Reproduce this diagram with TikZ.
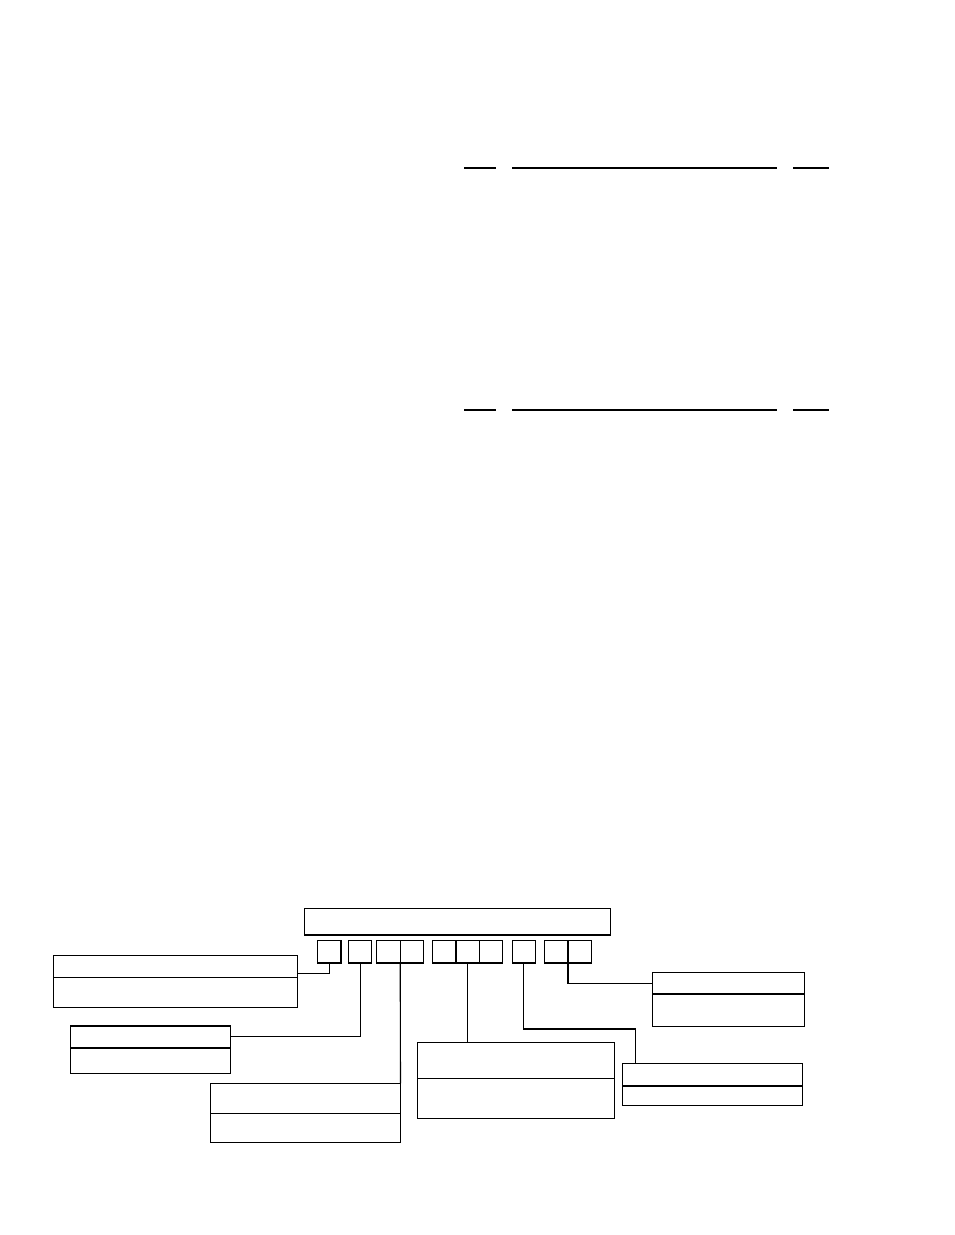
\documentclass[tikz,border=0pt]{standalone}
\usepackage{tikz}
\usetikzlibrary{positioning,calc}

\tikzset{
  box/.style={draw, rectangle, inner sep=0pt, outer sep=0pt},
  cell/.style={box, minimum width=23.4pt, minimum height=22.7pt}
}

\begin{document}
\begin{tikzpicture}[x=1pt,y=-1pt,line width=1.1pt]
      \useasboundingbox (0,0) rectangle (954,1235);
      % rules at the top
      \foreach \ypos in {168,410}{
        \draw (464,\ypos) -- (496,\ypos);
        \draw (512,\ypos) -- (777,\ypos);
        \draw (793,\ypos) -- (829,\ypos);
      }
      % code line
      \node[box, anchor=north west, minimum width=306.4pt, minimum height=26.7pt] (title) at (304.3,908.3) {};
      \node[cell, anchor=north west] (c1) at (317.6,940.3) {};
      \node[cell, right=7.4pt of c1] (c2) {};
      \node[cell, right=5pt of c2] (c3a) {};
      \node[cell, right=0pt of c3a] (c3b) {};
      \node[cell, right=9pt of c3b] (c4a) {};
      \node[cell, right=0pt of c4a] (c4b) {};
      \node[cell, right=0pt of c4b] (c4c) {};
      \node[cell, right=9.4pt of c4c] (c5) {};
      \node[cell, right=9pt of c5] (c6a) {};
      \node[cell, right=0pt of c6a] (c6b) {};
      % legend boxes
      \node[box, anchor=north west, minimum width=244pt, minimum height=22pt] (A1) at (53.3,955.3) {};
      \node[box, below=0pt of A1, minimum width=244pt, minimum height=30pt] (A2) {};
      \node[box, anchor=north west, minimum width=160pt, minimum height=21.7pt] (B1) at (70.3,1026) {};
      \node[box, below=0pt of B1, minimum width=160pt, minimum height=25.6pt] (B2) {};
      \node[box, anchor=north west, minimum width=190.2pt, minimum height=30pt] (C1) at (210.3,1083.3) {};
      \node[box, below=0pt of C1, minimum width=190.2pt, minimum height=29pt] (C2) {};
      \node[box, anchor=north west, minimum width=197pt, minimum height=36pt] (D1) at (417.3,1042.3) {};
      \node[box, below=0pt of D1, minimum width=197pt, minimum height=40pt] (D2) {};
      \node[box, anchor=north west, minimum width=152pt, minimum height=21.7pt] (E1) at (652.3,972.3) {};
      \node[box, below=0pt of E1, minimum width=152pt, minimum height=32.3pt] (E2) {};
      \node[box, anchor=north west, minimum width=180.4pt, minimum height=22.7pt] (F1) at (622.3,1063.3) {};
      \node[box, below=0pt of F1, minimum width=180.4pt, minimum height=19.3pt] (F2) {};
      \draw[line width=2pt] (B1.south west) -- (B1.south east);
      % leaders
      \coordinate (bendF) at (635.7,1029);
      \draw (c1.south) |- ($(A1.south east)+(0,-4)$);
      \draw (c2.south) |- (B1.east);
      \draw (c3a.south east) -- (C1.north east);
      \draw (c4b.south) -- (c4b.south |- D1.north);
      \draw (c5.south) |- (bendF) -- (bendF |- F1.north);
      \draw (c6a.south east) |- (E1.west);
\end{tikzpicture}
\end{document}
